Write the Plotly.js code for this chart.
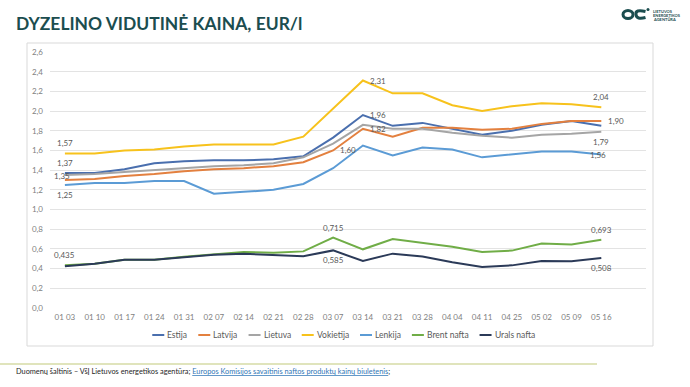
<!DOCTYPE html>
<html>
<head>
<meta charset="utf-8">
<script src="https://cdn.plot.ly/plotly-3.0.1.min.js"></script>
<style>
  html, body { margin: 0; padding: 0; background: #ffffff; }
  #chart { width: 690px; height: 387px; }
</style>
</head>
<body>
<div id="chart"></div>
<script>
// ---------- data ----------
const dates = ['01 03','01 10','01 17','01 24','01 31','02 07','02 14','02 21','02 28','03 07',
               '03 14','03 21','03 28','04 04','04 11','04 25','05 02','05 09','05 16'];

const estija    = [1.37,1.37,1.41,1.47,1.49,1.50,1.50,1.51,1.54,1.73,1.96,1.85,1.88,1.82,1.76,1.80,1.86,1.90,1.85];
const latvija   = [1.30,1.31,1.34,1.36,1.39,1.41,1.42,1.44,1.48,1.60,1.82,1.74,1.83,1.83,1.81,1.82,1.87,1.90,1.90];
const lietuva   = [1.35,1.36,1.38,1.40,1.42,1.44,1.45,1.47,1.53,1.67,1.86,1.82,1.82,1.78,1.75,1.73,1.76,1.77,1.79];
const vokietija = [1.57,1.57,1.60,1.61,1.64,1.66,1.66,1.66,1.74,2.02,2.31,2.18,2.18,2.06,2.00,2.05,2.08,2.07,2.04];
const lenkija   = [1.25,1.27,1.27,1.29,1.29,1.16,1.18,1.20,1.26,1.42,1.65,1.55,1.63,1.61,1.53,1.56,1.59,1.59,1.56];
const brent     = [0.435,0.45,0.49,0.49,0.52,0.545,0.57,0.56,0.575,0.715,0.596,0.70,0.66,0.623,0.569,0.583,0.654,0.644,0.693];
const urals     = [0.425,0.45,0.49,0.49,0.515,0.54,0.55,0.535,0.525,0.585,0.477,0.552,0.522,0.464,0.416,0.433,0.477,0.474,0.508];

const seriesNames  = ['Estija','Latvija','Lietuva','Vokietija','Lenkija','Brent nafta','Urals nafta'];
const seriesValues = [estija, latvija, lietuva, vokietija, lenkija, brent, urals];
const seriesColors = ['#4a6fae','#e3803f','#a5a5a5','#f7c21c','#5b9bd5','#70ad47','#2b3a58'];
const seriesDecimals = [2,2,2,2,2,3,3];

const yTicks = [0,0.2,0.4,0.6,0.8,1.0,1.2,1.4,1.6,1.8,2.0,2.2,2.4,2.6];

// data labels: [series index, point index, placement]
const dataLabels = [
  [3,0,'above'], [0,0,'above'], [2,0,'center'], [4,0,'below'],
  [3,10,'right'], [0,10,'right'], [1,10,'right'], [1,9,'right'],
  [3,18,'above'], [1,18,'right'], [2,18,'below'], [4,18,'center'],
  [5,0,'above'], [5,9,'above'], [6,9,'below'], [5,18,'above'], [6,18,'below']
];

const titleText = 'DYZELINO VIDUTINĖ KAINA, EUR/l';
const sourceText = 'Duomenų šaltinis – VšĮ Lietuvos energetikos agentūra; ';
const linkText = 'Europos Komisijos savaitinis naftos produktų kainų biuletenis';

// ---------- geometry helpers ----------
const W = 690, H = 387;
const M = {l: 50, r: 44, t: 52, b: 79};
const PW = W - M.l - M.r, PH = H - M.t - M.b;
const px = x => (x - M.l) / PW;
const py = y => (H - M.b - y) / PH;

const cv = document.createElement('canvas').getContext('2d');
function measure(text, size, family, weight) {
  cv.font = (weight || 'normal') + ' ' + size + 'px ' + family;
  return cv.measureText(text).width;
}

const FONT = 'Lato, "Open Sans", sans-serif';
const fmt = (v, d) => v.toFixed(d).replace('.', ',');

// ---------- traces ----------
const traces = seriesNames.map((name, i) => ({
  type: 'scatter', mode: 'lines', name: name,
  x: dates, y: seriesValues[i],
  line: {color: seriesColors[i], width: 2},
  hoverinfo: 'skip'
}));

// ---------- annotations ----------
const annotations = [];
const labelColor = '#595959';
dataLabels.forEach(([s, p, pos]) => {
  const v = seriesValues[s][p];
  const a = {
    xref: 'x', yref: 'y', x: dates[p], y: v,
    text: fmt(v, seriesDecimals[s]), showarrow: false,
    font: {family: FONT, size: 8, color: labelColor},
    xanchor: 'center', yanchor: 'middle'
  };
  if (pos === 'above') a.yshift = 10;
  if (pos === 'below') a.yshift = -10;
  if (pos === 'right') { a.xanchor = 'left'; a.xshift = 5; }
  if (pos === 'center') { a.xshift = -3; a.yshift = -1; }
  annotations.push(a);
});

// title
const titleW = 287;
const titleSize = 18 * titleW / measure(titleText, 18, 'Lato', 'bold');
annotations.push({
  xref: 'paper', yref: 'paper', x: px(14), y: py(23.5), xanchor: 'left', yanchor: 'middle',
  text: titleText, showarrow: false,
  font: {family: FONT, size: titleSize, color: '#1b4d4f', weight: 700}
});

// footer
const footW = 375;
const footSize = 10 * footW / measure(sourceText + linkText + ';', 10, 'Lato');
annotations.push({
  xref: 'paper', yref: 'paper', x: px(14), y: py(371), xanchor: 'left', yanchor: 'middle',
  text: sourceText + '<span style="color:#2e75b6;text-decoration:underline">' + linkText + '</span>;',
  showarrow: false, font: {family: FONT, size: footSize, color: '#262626'}
});

// logo text
['LIETUVOS','ENERGETIKOS','AGENTŪRA'].forEach((t, i) => {
  annotations.push({
    xref: 'paper', yref: 'paper', x: px(651), y: py(11 + i * 4.2), xanchor: 'left', yanchor: 'middle',
    text: t, showarrow: false, font: {family: FONT, size: 4, color: '#1b4d4f', weight: 700}
  });
});

// ---------- shapes ----------
const shapes = [];
// chart frame
shapes.push({type: 'rect', xref: 'paper', yref: 'paper',
  x0: px(27), x1: px(653), y0: py(346), y1: py(43),
  line: {color: '#d9d9d9', width: 1}, layer: 'below'});
// footer rule
shapes.push({type: 'line', xref: 'paper', yref: 'paper',
  x0: px(0), x1: px(597), y0: py(364), y1: py(364),
  line: {color: '#d6dba6', width: 1.5}});
// logo
shapes.push({type: 'circle', xref: 'paper', yref: 'paper',
  x0: px(623), x1: px(633), y0: py(18.5), y1: py(10.5),
  line: {color: '#1b4d4f', width: 3}});
shapes.push({type: 'path', xref: 'paper', yref: 'paper',
  path: 'M' + px(645.5) + ',' + py(11.5) + ' Q' + px(635) + ',' + py(9) + ' ' + px(636) + ',' + py(14.5) +
        ' Q' + px(636.5) + ',' + py(20) + ' ' + px(645.5) + ',' + py(17.5),
  line: {color: '#1b4d4f', width: 3}});
shapes.push({type: 'circle', xref: 'paper', yref: 'paper',
  x0: px(646.5), x1: px(649.5), y0: py(11), y1: py(8),
  fillcolor: '#1b4d4f', line: {width: 0}});

// custom compact legend (Excel-style)
const legSize = 8.5, legLine = 12, legGap = 2, legSpace = 12;
const legWidths = seriesNames.map(n => measure(n, legSize, 'Lato'));
const legTotal = legWidths.reduce((a, w) => a + legLine + legGap + w + legSpace, 0) - legSpace;
let cx = 343 - legTotal / 2;
const legY = 335;
seriesNames.forEach((n, i) => {
  shapes.push({type: 'line', xref: 'paper', yref: 'paper',
    x0: px(cx), x1: px(cx + legLine), y0: py(legY), y1: py(legY),
    line: {color: seriesColors[i], width: 2}});
  annotations.push({xref: 'paper', yref: 'paper', x: px(cx + legLine + legGap - 1), y: py(legY),
    xanchor: 'left', yanchor: 'middle', text: n, showarrow: false,
    font: {family: FONT, size: legSize, color: '#595959'}});
  cx += legLine + legGap + legWidths[i] + legSpace;
});

// ---------- layout ----------
const layout = {
  width: W, height: H,
  margin: M,
  paper_bgcolor: '#ffffff', plot_bgcolor: '#ffffff',
  showlegend: false,
  separators: ', ',
  font: {family: FONT, color: '#7f7f7f'},
  xaxis: {
    type: 'category', range: [-0.5, 19.5],
    tickmode: 'array', tickvals: dates, ticktext: dates,
    showgrid: false, zeroline: false, showline: false, ticks: '',
    tickfont: {family: FONT, size: 8, color: '#7f7f7f'},
    ticklabelstandoff: 3, fixedrange: true
  },
  yaxis: {
    range: [0, 2.6], tickmode: 'array', tickvals: yTicks,
    ticktext: yTicks.map(v => fmt(v, 1)),
    showgrid: true, gridcolor: '#e3e3e3', gridwidth: 1,
    zeroline: false, showline: false, ticks: '',
    tickfont: {family: FONT, size: 8, color: '#7f7f7f'},
    ticklabelstandoff: 6, fixedrange: true
  },
  annotations: annotations,
  shapes: shapes
};

Plotly.newPlot('chart', traces, layout, {displayModeBar: false, staticPlot: true});
</script>
</body>
</html>
